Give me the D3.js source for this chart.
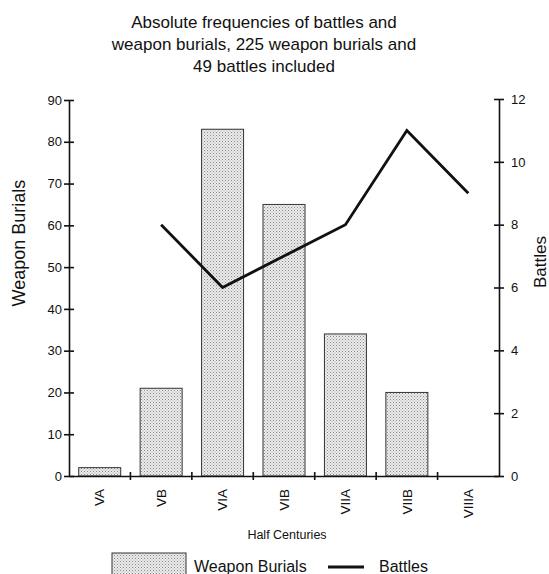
<!DOCTYPE html>
<html><head><meta charset="utf-8">
<script src="https://cdn.jsdelivr.net/npm/d3@7"></script>
<style>body{margin:0;background:#fff}svg{display:block}text{font-family:"Liberation Sans",Arial,sans-serif;fill:#111}</style>
</head><body>
<script>
const categories = ["VA","VB","VIA","VIB","VIIA","VIIB","VIIIA"];
const weaponBurials = [2,21,83,65,34,20,0];
const battles = [null,8,6,7,8,11,9];
const leftTicks = [0,10,20,30,40,50,60,70,80,90];
const rightTicks = [0,2,4,6,8,10,12];
const titleLines = ["Absolute frequencies of battles and","weapon burials, 225 weapon burials and","49 battles included"];

const W=549,H=574;
const svg=d3.select("body").append("svg").attr("width",W).attr("height",H);
const defs=svg.append("defs");
const pat=defs.append("pattern").attr("id","dots").attr("patternUnits","userSpaceOnUse").attr("width",3).attr("height",3);
pat.append("rect").attr("width",3).attr("height",3).attr("fill","#ebebeb");
pat.append("rect").attr("x",0).attr("y",0).attr("width",1).attr("height",1).attr("fill","#8a8a8a");
pat.append("rect").attr("x",1.5).attr("y",1.5).attr("width",1).attr("height",1).attr("fill","#a8a8a8");

const x0=69,x1=499,yTop=100,yBot=476;
const xb=d3.scaleBand().domain(categories).range([x0,x1]);
const yL=d3.scaleLinear().domain([0,90]).range([yBot,yTop]);
const yR=d3.scaleLinear().domain([0,12]).range([yBot,99]);

// title
svg.append("g").selectAll("text").data(titleLines).join("text")
 .attr("x",264).attr("y",(d,i)=>28+i*22).attr("text-anchor","middle").attr("font-size",17).text(d=>d);

// bars
svg.append("g").selectAll("rect").data(categories).join("rect")
 .attr("x",d=>xb(d)+xb.bandwidth()/2-21).attr("width",42)
 .attr("y",(d,i)=>yL(weaponBurials[i])).attr("height",(d,i)=>yBot-yL(weaponBurials[i]))
 .attr("fill","url(#dots)").attr("stroke",(d,i)=>weaponBurials[i]>0?"#333":"none").attr("stroke-width",1);

// line
const line=d3.line().defined(d=>d.v!=null).x(d=>xb(d.c)+xb.bandwidth()/2).y(d=>yR(d.v));
svg.append("path").datum(categories.map((c,i)=>({c,v:battles[i]})))
 .attr("d",line).attr("fill","none").attr("stroke","#111").attr("stroke-width",2.8).attr("stroke-linejoin","miter");

// left axis
const gl=svg.append("g").attr("transform",`translate(${x0},0)`)
 .call(d3.axisLeft(yL).tickValues(leftTicks).tickSize(5).tickSizeOuter(0));
gl.select(".domain").attr("stroke","#111").attr("stroke-width",1.6);
gl.selectAll(".tick line").attr("x2",-5).attr("x1",5).attr("stroke","#111").attr("stroke-width",1.6);
gl.selectAll(".tick text").attr("x",-7).attr("font-size",13).attr("font-family","Liberation Sans, Arial");

// right axis
const gr=svg.append("g").attr("transform",`translate(${x1},0)`)
 .call(d3.axisRight(yR).tickValues(rightTicks).tickSize(5).tickSizeOuter(0));
gr.select(".domain").attr("stroke","#111").attr("stroke-width",1.6);
gr.selectAll(".tick line").attr("x1",-5).attr("x2",5).attr("stroke","#111").attr("stroke-width",1.6);
gr.selectAll(".tick text").attr("x",12).attr("font-size",13).attr("font-family","Liberation Sans, Arial");

// bottom axis
const gb=svg.append("g").attr("transform",`translate(0,${yBot})`)
 .call(d3.axisBottom(xb).tickSize(0).tickSizeOuter(0));
gb.select(".domain").attr("stroke","#111").attr("stroke-width",1.6);
gb.selectAll(".tick text").attr("font-size",13.5).attr("font-family","Liberation Sans, Arial")
 .attr("transform","rotate(-90)").attr("text-anchor","end").attr("x",-13).attr("y",0).attr("dy","0.35em");
// boundary ticks
svg.append("g").selectAll("line").data(categories.slice(1)).join("line")
 .attr("x1",d=>xb(d)).attr("x2",d=>xb(d)).attr("y1",yBot-4).attr("y2",yBot+4).attr("stroke","#111").attr("stroke-width",1.6);

// axis titles
svg.append("text").attr("transform","translate(25,243) rotate(-90)").attr("text-anchor","middle").attr("font-size",18).text("Weapon Burials");
svg.append("text").attr("transform","translate(546,262) rotate(-90)").attr("text-anchor","middle").attr("font-size",17).text("Battles");
svg.append("text").attr("x",287).attr("y",539).attr("text-anchor","middle").attr("font-size",12.5).text("Half Centuries");

// legend
svg.append("rect").attr("x",112).attr("y",553).attr("width",74).attr("height",24).attr("fill","url(#dots)").attr("stroke","#333");
svg.append("text").attr("x",194).attr("y",572).attr("font-size",16).text("Weapon Burials");
svg.append("line").attr("x1",328).attr("x2",364).attr("y1",567).attr("y2",567).attr("stroke","#111").attr("stroke-width",2.8);
svg.append("text").attr("x",379).attr("y",572).attr("font-size",16).text("Battles");
</script>
</body></html>
